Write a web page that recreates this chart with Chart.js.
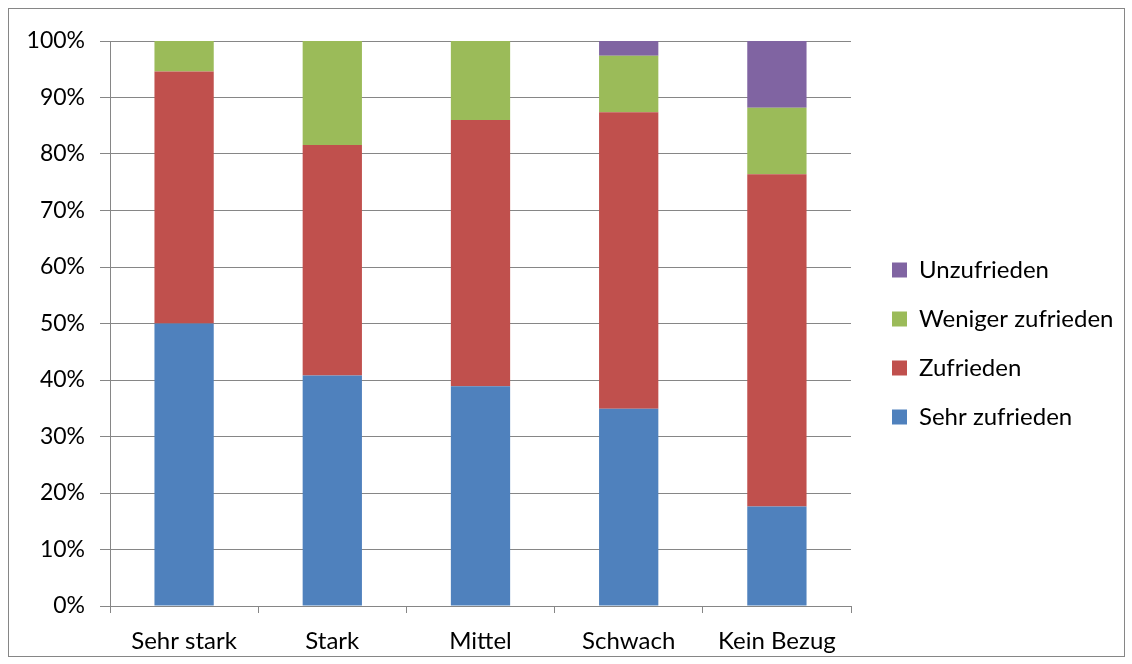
<!DOCTYPE html>
<html><head><meta charset="utf-8">
<script src="https://cdn.jsdelivr.net/npm/chart.js@4.4.1/dist/chart.umd.min.js"></script>
<style>
html,body{margin:0;padding:0;background:#fff;}
#box{position:absolute;left:8px;top:8px;width:1115px;height:647px;border:1px solid #868686;}
#wrap{position:absolute;left:1px;top:1px;width:1114px;height:646px;}
</style></head><body>
<div id="box"><div id="wrap"><canvas id="c"></canvas></div></div>
<script>
const categories = ["Sehr stark", "Stark", "Mittel", "Schwach", "Kein Bezug"];
const sehrZufrieden = [50.0, 40.8, 38.9, 34.9, 17.6];
const zufrieden = [44.6, 40.8, 47.1, 52.5, 58.8];
const wenigerZufrieden = [5.4, 18.4, 14.0, 10.0, 11.8];
const unzufrieden = [0, 0, 0, 2.6, 11.8];
const yTicks = [0,10,20,30,40,50,60,70,80,90,100];

const FONT = "Lato, 'Open Sans', sans-serif";
const grid = '#868686';

const legendPlace = {
  id: 'legendPlace',
  beforeLayout(chart) {
    const lg = chart.legend;
    if (lg && !lg._wrapped) {
      const orig = lg.fit.bind(lg);
      lg.fit = function(){ orig(); this.width = 273; };
      lg._wrapped = true;
    }
  },
  afterLayout(chart) {
    const lg = chart.legend;
    if (lg) { lg.left += 16; lg.top -= 5; lg.bottom -= 5; }
  }
};

new Chart(document.getElementById('c'), {
  type: 'bar',
  data: {
    labels: categories,
    datasets: [
      {label: 'Sehr zufrieden', data: sehrZufrieden, backgroundColor: '#4F81BD'},
      {label: 'Zufrieden', data: zufrieden, backgroundColor: '#C0504D'},
      {label: 'Weniger zufrieden', data: wenigerZufrieden, backgroundColor: '#9BBB59'},
      {label: 'Unzufrieden', data: unzufrieden, backgroundColor: '#8064A2'}
    ]
  },
  options: {
    responsive: true,
    maintainAspectRatio: false,
    animation: false,
    devicePixelRatio: 1,
    layout: {padding: {top: 31, left: 0, right: 0, bottom: 0}},
    datasets: {bar: {categoryPercentage: 1, barPercentage: 0.4, borderWidth: 0}},
    scales: {
      x: {
        stacked: true,
        grid: {display: true, drawOnChartArea: false, drawTicks: true, tickLength: 7, color: grid, offset: true},
        border: {display: true, color: grid, width: 1},
        ticks: {color: '#000', font: {family: FONT, size: 24}, padding: 14, maxRotation: 0},
        afterFit(s){ s.height = 50; }
      },
      y: {
        stacked: true,
        min: 0, max: 100,
        afterBuildTicks(s){ s.ticks = yTicks.map(v => ({value: v})); },
        grid: {color: grid, lineWidth: 1, tickLength: 10, drawTicks: true},
        border: {display: true, color: grid, width: 1},
        ticks: {color: '#000', font: {family: FONT, size: 23}, padding: 15, callback: v => v + '%'},
        afterFit(s){ s.width = 100; }
      }
    },
    plugins: {
      legend: {
        position: 'right',
        reverse: true,
        labels: {color: '#000', font: {family: FONT, size: 24}, boxWidth: 15, boxHeight: 15, padding: 25}
      },
      tooltip: {enabled: false}
    }
  },
  plugins: [legendPlace]
});
</script>
</body></html>
